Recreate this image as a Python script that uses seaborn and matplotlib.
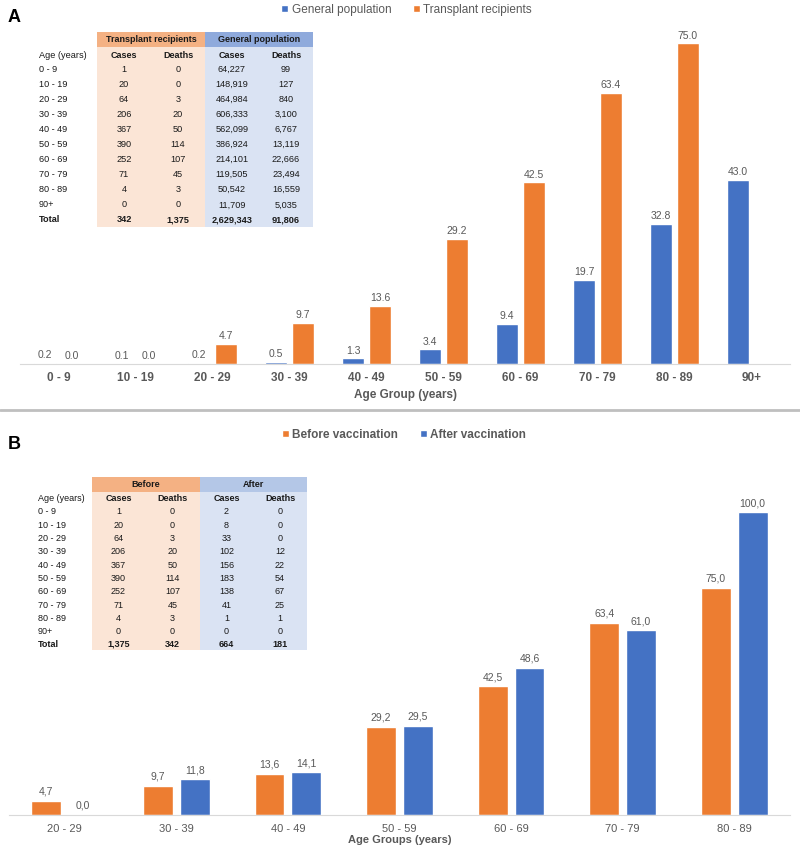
import numpy as np
import pandas as pd
import seaborn as sns
import matplotlib.pyplot as plt
from matplotlib.patches import Rectangle

# panel A data
ages_a = ['0 - 9', '10 - 19', '20 - 29', '30 - 39', '40 - 49',
          '50 - 59', '60 - 69', '70 - 79', '80 - 89', '90+']
general_pop = [0.2, 0.1, 0.2, 0.5, 1.3, 3.4, 9.4, 19.7, 32.8, 43.0]
transplant = [0.0, 0.0, 4.7, 9.7, 13.6, 29.2, 42.5, 63.4, 75.0, np.nan]

tab_a_ages = ages_a + ['Total']
tab_a_tr_cases = ['1', '20', '64', '206', '367', '390', '252', '71', '4', '0', '342']
tab_a_tr_deaths = ['0', '0', '3', '20', '50', '114', '107', '45', '3', '0', '1,375']
tab_a_gp_cases = ['64,227', '148,919', '464,984', '606,333', '562,099', '386,924',
                  '214,101', '119,505', '50,542', '11,709', '2,629,343']
tab_a_gp_deaths = ['99', '127', '840', '3,100', '6,767', '13,119', '22,666',
                   '23,494', '16,559', '5,035', '91,806']

# panel B data
ages_b = ['20 - 29', '30 - 39', '40 - 49', '50 - 59', '60 - 69', '70 - 79', '80 - 89']
before_vacc = [4.7, 9.7, 13.6, 29.2, 42.5, 63.4, 75.0]
after_vacc = [0.0, 11.8, 14.1, 29.5, 48.6, 61.0, 100.0]

tab_b_before_cases = ['1', '20', '64', '206', '367', '390', '252', '71', '4', '0', '1,375']
tab_b_before_deaths = ['0', '0', '3', '20', '50', '114', '107', '45', '3', '0', '342']
tab_b_after_cases = ['2', '8', '33', '102', '156', '183', '138', '41', '1', '0', '664']
tab_b_after_deaths = ['0', '0', '0', '12', '22', '54', '67', '25', '1', '0', '181']

BLUE = '#4472C4'
ORANGE = '#ED7D31'
GREY = '#595959'

sns.set_style('white')
plt.rcParams['font.family'] = ['Liberation Sans', 'DejaVu Sans']

W, H = 800, 847
fig = plt.figure(figsize=(8, 8.47), dpi=100)


def fx(x):
    return x / W


def fy(y):
    return 1 - y / H


def ftext(x, y, s, **kw):
    kw.setdefault('va', 'center')
    kw.setdefault('color', '#1a1a1a')
    fig.text(fx(x), fy(y), s, transform=fig.transFigure, **kw)


def frect(x0, y0, x1, y1, color):
    fig.add_artist(Rectangle((fx(x0), fy(y1)), fx(x1) - fx(x0), fy(y0) - fy(y1),
                             transform=fig.transFigure, color=color, lw=0, zorder=0.5))


def style_axis(ax, pad):
    for s in ['top', 'left', 'right']:
        ax.spines[s].set_visible(False)
    ax.spines['bottom'].set_color('#D9D9D9')
    ax.set_yticks([])
    ax.set_ylabel('')
    ax.tick_params(axis='x', length=0, pad=pad)


# ---------- panel A ----------
df_a = pd.DataFrame({
    'age': ages_a * 2,
    'rate': general_pop + transplant,
    'group': ['General population'] * len(ages_a) + ['Transplant recipients'] * len(ages_a),
})
ax_a = fig.add_axes([fx(20), fy(364), fx(790) - fx(20), fy(22) - fy(364)])
sns.barplot(data=df_a, x='age', y='rate', hue='group', order=ages_a,
            hue_order=['General population', 'Transplant recipients'],
            palette=[BLUE, ORANGE], width=0.70, gap=0.15, ax=ax_a, saturation=1)
ax_a.set_ylim(0, 80)
ax_a.set_xlim(-0.5, 9.5)
style_axis(ax_a, 6)
for c in ax_a.containers:
    ax_a.bar_label(c, fmt='{:.1f}', padding=2, fontsize=7.5, color=GREY)
for lab in ax_a.get_xticklabels():
    lab.set_fontweight('bold')
    lab.set_fontsize(8.5)
    lab.set_color(GREY)
ax_a.set_xlabel('Age Group (years)', fontsize=8.5, fontweight='bold', color=GREY, labelpad=3)
sns.move_legend(ax_a, 'upper center', bbox_to_anchor=(0.508, fy(-2)), bbox_transform=fig.transFigure,
                ncol=2, frameon=False, title=None, fontsize=8.5, handlelength=0.6,
                handleheight=0.6, handletextpad=0.3, columnspacing=1.8, borderaxespad=0.1)
for t in ax_a.get_legend().get_texts():
    t.set_color(GREY)

# table A
frect(97, 32, 205, 47, '#F4B183')
frect(205, 32, 313, 47, '#8FAADC')
frect(97, 47, 205, 227, '#FBE5D6')
frect(205, 47, 313, 227, '#DAE3F3')
ftext(151, 40, 'Transplant recipients', ha='center', fontsize=6.5, fontweight='bold')
ftext(259, 40, 'General population', ha='center', fontsize=6.5, fontweight='bold')
ftext(39, 55, 'Age (years)', ha='left', fontsize=6.6)
cols_a = [124, 178, 232, 286]
for j, x in enumerate(cols_a):
    ftext(x, 55, 'Cases' if j % 2 == 0 else 'Deaths', ha='center', fontsize=6.5, fontweight='bold')
for i, age in enumerate(tab_a_ages):
    y = 69 + 15.1 * i if age != 'Total' else 220
    w = 'bold' if age == 'Total' else 'normal'
    ftext(39, y, age, ha='left', fontsize=6.6, fontweight=w)
    for x, col in zip(cols_a, [tab_a_tr_cases, tab_a_tr_deaths, tab_a_gp_cases, tab_a_gp_deaths]):
        ftext(x, y, col[i], ha='center', fontsize=6.6, fontweight=w)

ftext(8, 18, 'A', ha='left', fontsize=13, fontweight='bold', color='black')

# divider
fig.add_artist(plt.Line2D([0, 1], [fy(410), fy(410)], transform=fig.transFigure,
                          color='#BFBFBF', lw=2))

# ---------- panel B ----------
df_b = pd.DataFrame({
    'age': ages_b * 2,
    'rate': before_vacc + after_vacc,
    'group': ['Before vaccination'] * len(ages_b) + ['After vaccination'] * len(ages_b),
})
ax_b = fig.add_axes([fx(9), fy(815), fx(790) - fx(9), fy(482) - fy(815)])
sns.barplot(data=df_b, x='age', y='rate', hue='group', order=ages_b,
            hue_order=['Before vaccination', 'After vaccination'],
            palette=[ORANGE, BLUE], width=0.66, gap=0.19, ax=ax_b, saturation=1)
ax_b.set_ylim(0, 110)
ax_b.set_xlim(-0.5, 6.5)
style_axis(ax_b, 6.5)
for c in ax_b.containers:
    ax_b.bar_label(c, fmt=lambda v: f'{v:.1f}'.replace('.', ','), padding=3,
                   fontsize=7.5, color=GREY)
for lab in ax_b.get_xticklabels():
    lab.set_fontsize(8)
    lab.set_color(GREY)
ax_b.set_xlabel('Age Groups (years)', fontsize=8, fontweight='bold', color=GREY, labelpad=1)
sns.move_legend(ax_b, 'upper center', bbox_to_anchor=(0.505, fy(423)), bbox_transform=fig.transFigure,
                ncol=2, frameon=False, title=None, fontsize=8.5, handlelength=0.6,
                handleheight=0.6, handletextpad=0.3, columnspacing=1.8, borderaxespad=0.1)
for t in ax_b.get_legend().get_texts():
    t.set_color(GREY)
    t.set_fontweight('bold')

# table B
frect(92, 477, 200, 492, '#F4B183')
frect(200, 477, 307, 492, '#B4C7E7')
frect(92, 492, 200, 650, '#FBE5D6')
frect(200, 492, 307, 650, '#DAE3F3')
ftext(146, 484.5, 'Before', ha='center', fontsize=6.5, fontweight='bold')
ftext(253.5, 484.5, 'After', ha='center', fontsize=6.5, fontweight='bold')
ftext(38, 498.5, 'Age (years)', ha='left', fontsize=6.5)
cols_b = [118.5, 172.5, 226.5, 280]
for j, x in enumerate(cols_b):
    ftext(x, 498.5, 'Cases' if j % 2 == 0 else 'Deaths', ha='center', fontsize=6.5, fontweight='bold')
for i, age in enumerate(tab_a_ages):
    y = 511.7 + 13.33 * i if age != 'Total' else 644.5
    w = 'bold' if age == 'Total' else 'normal'
    ftext(38, y, age, ha='left', fontsize=6.5, fontweight=w)
    for x, col in zip(cols_b, [tab_b_before_cases, tab_b_before_deaths,
                               tab_b_after_cases, tab_b_after_deaths]):
        ftext(x, y, col[i], ha='center', fontsize=6.5, fontweight=w)

ftext(8, 444, 'B', ha='left', fontsize=13, fontweight='bold', color='black')

fig.savefig('out.png', dpi=100, facecolor='white')
